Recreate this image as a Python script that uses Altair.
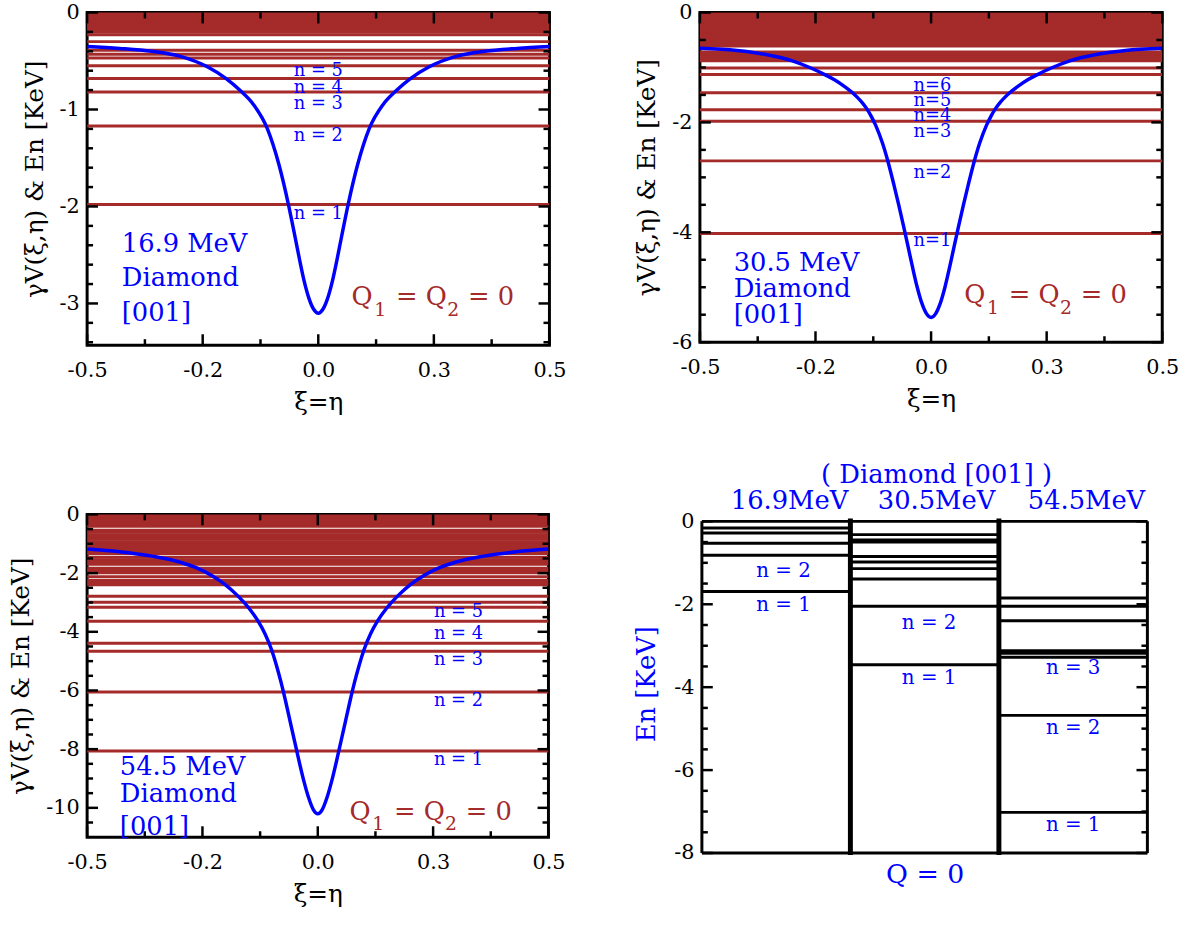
import altair as alt
import pandas as pd

FONT = "DejaVu Serif"
BROWN = "#a52a2a"
BLUE = "#0000ff"

# ---------------- shared x axis (panels 1-3) ----------------
X_TICK_VALUES = [-0.5, -0.25, 0.0, 0.25, 0.5]
X_TICK_LABELS = ["-0.5", "-0.2", "0.0", "0.3", "0.5"]
X_MINOR_TICKS = [-0.375, -0.125, 0.125, 0.375]

# ---------------- panel 1 : 16.9 MeV ----------------
P1_XI = [-0.5, -0.43, -0.36, -0.30, -0.24, -0.20, -0.17, -0.14, -0.11, -0.085, -0.065, -0.05, -0.04, -0.03, -0.02, -0.01, 0.0,
         0.01, 0.02, 0.03, 0.04, 0.05, 0.065, 0.085, 0.11, 0.14, 0.17, 0.20, 0.24, 0.30, 0.36, 0.43, 0.5]
P1_V = [-0.35, -0.37, -0.40, -0.45, -0.56, -0.68, -0.80, -0.95, -1.20, -1.57, -1.97, -2.32, -2.56, -2.78, -2.95, -3.06, -3.10,
        -3.06, -2.95, -2.78, -2.56, -2.32, -1.97, -1.57, -1.20, -0.95, -0.80, -0.68, -0.56, -0.45, -0.40, -0.37, -0.35]
P1_LEVELS = [-1.98, -1.17, -0.82, -0.68, -0.55, -0.47, -0.43, -0.39, -0.30, -0.23,
             -0.20, -0.18, -0.16, -0.14, -0.12, -0.10, -0.08, -0.06, -0.04, -0.02, -0.01]
P1_N_TEXT = ["n = 1", "n = 2", "n = 3", "n = 4", "n = 5"]
P1_N_X = [0.0, 0.0, 0.0, 0.0, 0.0]
P1_N_Y = [-2.08, -1.27, -0.94, -0.78, -0.60]
P1_INFO = ["16.9 MeV", "Diamond", "[001]"]
P1_INFO_X = [-0.425, -0.425, -0.425]
P1_INFO_Y = [-2.39, -2.74, -3.10]
P1_Q_X, P1_Q_Y = 0.072, -3.02
P1_Y_DOMAIN = [-3.43, 0]
P1_Y_TICKS = [0, -1, -2, -3]
P1_Y_MINOR = [-0.2, -0.4, -0.6, -0.8, -1.2, -1.4, -1.6, -1.8, -2.2, -2.4, -2.6, -2.8, -3.2, -3.4]

# ---------------- panel 2 : 30.5 MeV ----------------
P2_XI = [-0.5, -0.42, -0.36, -0.30, -0.26, -0.23, -0.21, -0.19, -0.17, -0.16, -0.15, -0.14, -0.13, -0.12, -0.105, -0.093,
         -0.08, -0.07, -0.06, -0.05, -0.04, -0.03, -0.02, -0.01, 0.0,
         0.01, 0.02, 0.03, 0.04, 0.05, 0.06, 0.07, 0.08, 0.093, 0.105, 0.12, 0.13, 0.14, 0.15, 0.16, 0.17, 0.19, 0.21,
         0.23, 0.26, 0.30, 0.36, 0.42, 0.5]
P2_V = [-0.65, -0.69, -0.76, -0.88, -1.01, -1.13, -1.22, -1.33, -1.46, -1.54, -1.63, -1.74, -1.88, -2.05, -2.38, -2.72,
        -3.15, -3.50, -3.87, -4.25, -4.64, -5.00, -5.29, -5.48, -5.55,
        -5.48, -5.29, -5.00, -4.64, -4.25, -3.87, -3.50, -3.15, -2.72, -2.38, -2.05, -1.88, -1.74, -1.63, -1.54, -1.46,
        -1.33, -1.22, -1.13, -1.01, -0.88, -0.76, -0.69, -0.65]
P2_LEVELS = [-4.02, -2.70, -1.98, -1.77, -1.46, -1.13, -1.01, -0.88, -0.84, -0.80, -0.76, -0.72,
             -0.61, -0.57, -0.53, -0.49, -0.45, -0.41, -0.37, -0.33, -0.29, -0.25, -0.21, -0.17,
             -0.13, -0.09, -0.05, -0.02]
P2_N_TEXT = ["n=1", "n=2", "n=3", "n=4", "n=5", "n=6"]
P2_N_X = [0.003, 0.003, 0.003, 0.003, 0.003, 0.003]
P2_N_Y = [-4.16, -2.92, -2.18, -1.89, -1.62, -1.33]
P2_INFO = ["30.5 MeV", "Diamond", "[001]"]
P2_INFO_X = [-0.427, -0.427, -0.427]
P2_INFO_Y = [-4.56, -5.03, -5.51]
P2_Q_X, P2_Q_Y = 0.072, -5.28
P2_Y_DOMAIN = [-6, 0]
P2_Y_TICKS = [0, -2, -4, -6]
P2_Y_MINOR = [-0.5, -1, -1.5, -2.5, -3, -3.5, -4.5, -5, -5.5]

# ---------------- panel 3 : 54.5 MeV ----------------
P3_XI = [-0.5, -0.43, -0.36, -0.30, -0.26, -0.23, -0.20, -0.175, -0.15, -0.13, -0.115, -0.10, -0.09, -0.08, -0.07, -0.06,
         -0.05, -0.04, -0.03, -0.02, -0.01, 0.0,
         0.01, 0.02, 0.03, 0.04, 0.05, 0.06, 0.07, 0.08, 0.09, 0.10, 0.115, 0.13, 0.15, 0.175, 0.20, 0.23, 0.26, 0.30,
         0.36, 0.43, 0.5]
P3_V = [-1.18, -1.27, -1.42, -1.62, -1.84, -2.08, -2.40, -2.75, -3.18, -3.62, -4.05, -4.62, -5.12, -5.70, -6.35, -7.05,
        -7.75, -8.45, -9.10, -9.65, -10.05, -10.20,
        -10.05, -9.65, -9.10, -8.45, -7.75, -7.05, -6.35, -5.70, -5.12, -4.62, -4.05, -3.62, -3.18, -2.75, -2.40, -2.08,
        -1.84, -1.62, -1.42, -1.27, -1.18]
P3_LEVELS = [-8.06, -6.05, -4.66, -4.39, -3.64, -3.16, -2.99, -2.79,
             -2.40, -2.32, -2.24, -2.12, -1.99, -1.91, -1.83, -1.70, -1.62, -1.54, -1.46, -1.33,
             -1.25, -1.17, -1.09, -1.01, -0.93, -0.85, -0.77, -0.69, -0.61, -0.54, -0.40,
             -0.32, -0.24, -0.16, -0.08, -0.02]
P3_N_TEXT = ["n = 1", "n = 2", "n = 3", "n = 4", "n = 5"]
P3_N_X = [0.305, 0.305, 0.305, 0.305, 0.305]
P3_N_Y = [-8.38, -6.36, -4.98, -4.07, -3.33]
P3_INFO = ["54.5 MeV", "Diamond", "[001]"]
P3_INFO_X = [-0.429, -0.429, -0.429]
P3_INFO_Y = [-8.62, -9.53, -10.64]
P3_Q_X, P3_Q_Y = 0.069, -10.40
P3_Y_DOMAIN = [-11, 0]
P3_Y_TICKS = [0, -2, -4, -6, -8, -10]
P3_Y_MINOR = [-0.5, -1, -1.5, -2.5, -3, -3.5, -4.5, -5, -5.5, -6.5, -7, -7.5, -8.5, -9, -9.5, -10.5]

# ---------------- panel 4 : level diagram ----------------
P4_COLUMNS = ["16.9MeV", "30.5MeV", "54.5MeV"]
P4_COL1 = [-1.69, -0.82, -0.53, -0.28, -0.16]
P4_COL2 = [-3.46, -2.05, -1.39, -1.14, -0.98, -0.85, -0.50, -0.45, -0.32]
P4_COL3 = [-7.02, -4.68, -3.28, -3.18, -3.12, -2.40, -2.05, -1.85]
P4_N_TEXT = ["n = 2", "n = 1", "n = 2", "n = 1", "n = 3", "n = 2", "n = 1"]
P4_N_X = [0.55, 0.55, 1.53, 1.53, 2.5, 2.5, 2.5]
P4_N_Y = [-1.19, -2.03, -2.46, -3.77, -3.53, -4.99, -7.33]
P4_HEAD_X = [0.59, 1.58, 2.59]
P4_HEAD_Y = [0.48, 0.48, 0.48]
P4_TITLE = "( Diamond [001] )"
P4_TITLE_X, P4_TITLE_Y = 1.58, 1.12
P4_FRAME_X = [0, 3]
P4_FRAME_Y = [-8, 0]
P4_Y_DOMAIN = [-8, 0.167]   # a little head-room above the frame so the panel sits lower
P4_Y_TICKS = [0, -2, -4, -6, -8]
P4_Y_MINOR = [-0.5, -1, -1.5, -2.5, -3, -3.5, -4.5, -5, -5.5, -6.5, -7, -7.5]
P4_SEPARATORS = [1, 2]
P4_SEP_Y = [-8.05, 0.07]

Q_PARTS = ["Q", "= Q", "= 0"]
Q_PART_DX = [0.0, 0.096, 0.252]
Q_SUBS = ["1", "2"]
Q_SUB_DX = [0.049, 0.207]

Y_TITLE = "γV(ξ,η) & En [KeV]"
X_TITLE = "ξ=η"

MAJ, MIN = 11, 6


def y_label_expr():
    return "datum.value < 0 ? '-' + (-datum.value) : '0'"


def x_label_expr():
    parts = []
    for v, lab in zip(X_TICK_VALUES, X_TICK_LABELS):
        parts.append(f"abs(datum.value - ({v})) < 1e-6 ? '{lab}' : ")
    return "".join(parts) + "''"


def edge_ticks(vals, length, side, w, h, X, Y):
    df = pd.DataFrame({"t": vals})
    base = alt.Chart(df).mark_rule(color="black", strokeWidth=2.5)
    if side == "left":
        return base.encode(y=Y("t"), x=alt.value(0), x2=alt.value(length))
    if side == "right":
        return base.encode(y=Y("t"), x=alt.value(w), x2=alt.value(w - length))
    if side == "bottom":
        return base.encode(x=X("t"), y=alt.value(h), y2=alt.value(h - length))
    return base.encode(x=X("t"), y=alt.value(0), y2=alt.value(length))


def potential_panel(xi, v, levels, ntext, nx, ny, info, ix, iy, qx, qy, ydom, ymaj, ymin, w, h):
    xs = alt.Scale(domain=[-0.5, 0.5], nice=False, zero=False)
    ys = alt.Scale(domain=ydom, nice=False, zero=False)
    xa = alt.Axis(values=X_TICK_VALUES, labelExpr=x_label_expr(), title=X_TITLE,
                  labelPadding=15, titlePadding=9, labelFlush=False)
    ya = alt.Axis(values=ymaj, labelExpr=y_label_expr(), title=Y_TITLE,
                  labelPadding=8, titlePadding=12, labelFlush=False)

    def X(f):
        return alt.X(f"{f}:Q", scale=xs, axis=xa, title=X_TITLE)

    def Y(f):
        return alt.Y(f"{f}:Q", scale=ys, axis=ya, title=Y_TITLE)

    lev = alt.Chart(pd.DataFrame({"E": levels})).mark_rule(color=BROWN, strokeWidth=3, clip=True).encode(y=Y("E"))
    curve = alt.Chart(pd.DataFrame({"xi": xi, "V": v})).mark_line(
        color=BLUE, strokeWidth=3.5, interpolate="monotone", clip=True).encode(x=X("xi"), y=Y("V"))
    ntx = alt.Chart(pd.DataFrame({"x": nx, "y": ny, "t": ntext})).mark_text(
        font=FONT, fontSize=18, color=BLUE, align="center", baseline="middle").encode(
        x=X("x"), y=Y("y"), text="t:N")
    itx = alt.Chart(pd.DataFrame({"x": ix, "y": iy, "t": info})).mark_text(
        font=FONT, fontSize=26, color=BLUE, align="left", baseline="middle").encode(
        x=X("x"), y=Y("y"), text="t:N")
    qdf = pd.DataFrame({"x": [qx + d for d in Q_PART_DX], "y": [qy] * len(Q_PARTS), "t": Q_PARTS})
    qtx = alt.Chart(qdf).mark_text(font=FONT, fontSize=26, color=BROWN, align="left", baseline="alphabetic").encode(
        x=X("x"), y=Y("y"), text="t:N")
    sdf = pd.DataFrame({"x": [qx + d for d in Q_SUB_DX], "y": [qy] * len(Q_SUBS), "t": Q_SUBS})
    stx = alt.Chart(sdf).mark_text(font=FONT, fontSize=19, color=BROWN, align="left", baseline="alphabetic",
                                   dy=11).encode(x=X("x"), y=Y("y"), text="t:N")
    ticks = [
        edge_ticks(ymaj, MAJ, "left", w, h, X, Y), edge_ticks(ymin, MIN, "left", w, h, X, Y),
        edge_ticks(ymaj, MAJ, "right", w, h, X, Y), edge_ticks(ymin, MIN, "right", w, h, X, Y),
        edge_ticks(X_TICK_VALUES, MAJ, "bottom", w, h, X, Y), edge_ticks(X_MINOR_TICKS, MIN, "bottom", w, h, X, Y),
        edge_ticks(X_TICK_VALUES, MAJ, "top", w, h, X, Y), edge_ticks(X_MINOR_TICKS, MIN, "top", w, h, X, Y),
    ]
    return alt.layer(lev, curve, ntx, itx, qtx, stx, *ticks).properties(width=w, height=h)


def level_panel(w, h):
    xs = alt.Scale(domain=[0, 3], nice=False, zero=False)
    ys = alt.Scale(domain=P4_Y_DOMAIN, nice=False, zero=False)
    xa = alt.Axis(title="Q = 0", labels=False, titleColor=BLUE, titleFontSize=27, titlePadding=9)
    ya = alt.Axis(values=P4_Y_TICKS, labelExpr=y_label_expr(), title="En [KeV]", titleColor=BLUE,
                  titleFontSize=26, labelPadding=8, titlePadding=14, labelFlush=False)

    def X(f):
        return alt.X(f"{f}:Q", scale=xs, axis=xa, title="Q = 0")

    def Y(f):
        return alt.Y(f"{f}:Q", scale=ys, axis=ya, title="En [KeV]")

    rows = []
    for i, col in enumerate([P4_COL1, P4_COL2, P4_COL3]):
        for e in col:
            rows.append({"a": i, "b": i + 1, "E": e})
    lev = alt.Chart(pd.DataFrame(rows)).mark_rule(color="black", strokeWidth=3).encode(
        x=X("a"), x2="b:Q", y=Y("E"))
    fh = alt.Chart(pd.DataFrame({"y": P4_FRAME_Y, "a": [P4_FRAME_X[0]] * 2, "b": [P4_FRAME_X[1]] * 2})).mark_rule(
        color="black", strokeWidth=3).encode(x=X("a"), x2="b:Q", y=Y("y"))
    fv = alt.Chart(pd.DataFrame({"x": P4_FRAME_X, "lo": [P4_FRAME_Y[0]] * 2, "hi": [P4_FRAME_Y[1]] * 2})).mark_rule(
        color="black", strokeWidth=3).encode(x=X("x"), y=Y("lo"), y2="hi:Q")
    sep = alt.Chart(pd.DataFrame({"s": P4_SEPARATORS, "lo": [P4_SEP_Y[0]] * 2, "hi": [P4_SEP_Y[1]] * 2})).mark_rule(
        color="black", strokeWidth=5).encode(x=X("s"), y=Y("lo"), y2="hi:Q")
    ntx = alt.Chart(pd.DataFrame({"x": P4_N_X, "y": P4_N_Y, "t": P4_N_TEXT})).mark_text(
        font=FONT, fontSize=20, color=BLUE, align="center", baseline="middle").encode(
        x=X("x"), y=Y("y"), text="t:N")
    head = alt.Chart(pd.DataFrame({"x": P4_HEAD_X + [P4_TITLE_X], "y": P4_HEAD_Y + [P4_TITLE_Y],
                                   "t": P4_COLUMNS + [P4_TITLE]})).mark_text(
        font=FONT, fontSize=26, color=BLUE, align="center", baseline="middle").encode(
        x=X("x"), y=Y("y"), text="t:N")
    ticks = [
        edge_ticks(P4_Y_TICKS, MAJ, "left", w, h, X, Y), edge_ticks(P4_Y_MINOR, MIN, "left", w, h, X, Y),
        edge_ticks(P4_Y_TICKS, MAJ, "right", w, h, X, Y), edge_ticks(P4_Y_MINOR, MIN, "right", w, h, X, Y),
    ]
    return alt.layer(lev, fh, fv, sep, ntx, head, *ticks).properties(
        width=w, height=h, view=alt.ViewBackground(stroke="transparent"))


p1 = potential_panel(P1_XI, P1_V, P1_LEVELS, P1_N_TEXT, P1_N_X, P1_N_Y, P1_INFO, P1_INFO_X, P1_INFO_Y,
                     P1_Q_X, P1_Q_Y, P1_Y_DOMAIN, P1_Y_TICKS, P1_Y_MINOR, 467, 336)
p2 = potential_panel(P2_XI, P2_V, P2_LEVELS, P2_N_TEXT, P2_N_X, P2_N_Y, P2_INFO, P2_INFO_X, P2_INFO_Y,
                     P2_Q_X, P2_Q_Y, P2_Y_DOMAIN, P2_Y_TICKS, P2_Y_MINOR, 467, 333)
p3 = potential_panel(P3_XI, P3_V, P3_LEVELS, P3_N_TEXT, P3_N_X, P3_N_Y, P3_INFO, P3_INFO_X, P3_INFO_Y,
                     P3_Q_X, P3_Q_Y, P3_Y_DOMAIN, P3_Y_TICKS, P3_Y_MINOR, 466, 326)
p4 = level_panel(450, 342)

row1 = alt.hconcat(p1, p2, spacing=66)
row2 = alt.hconcat(p3, p4, spacing=66)
chart = alt.vconcat(row1, row2, spacing=44).properties(
    padding={"left": 7, "top": -5, "right": 5, "bottom": 5}, background="white"
).configure_view(stroke="black", strokeWidth=3).configure_axis(
    labelFont=FONT, titleFont=FONT, labelFontSize=21, titleFontSize=25, labelColor="black",
    titleColor="black", titleFontWeight="normal", grid=False, domain=False, ticks=False, tickSize=0
)

chart.save("out.html", embed_options={"renderer": "svg", "actions": False})
